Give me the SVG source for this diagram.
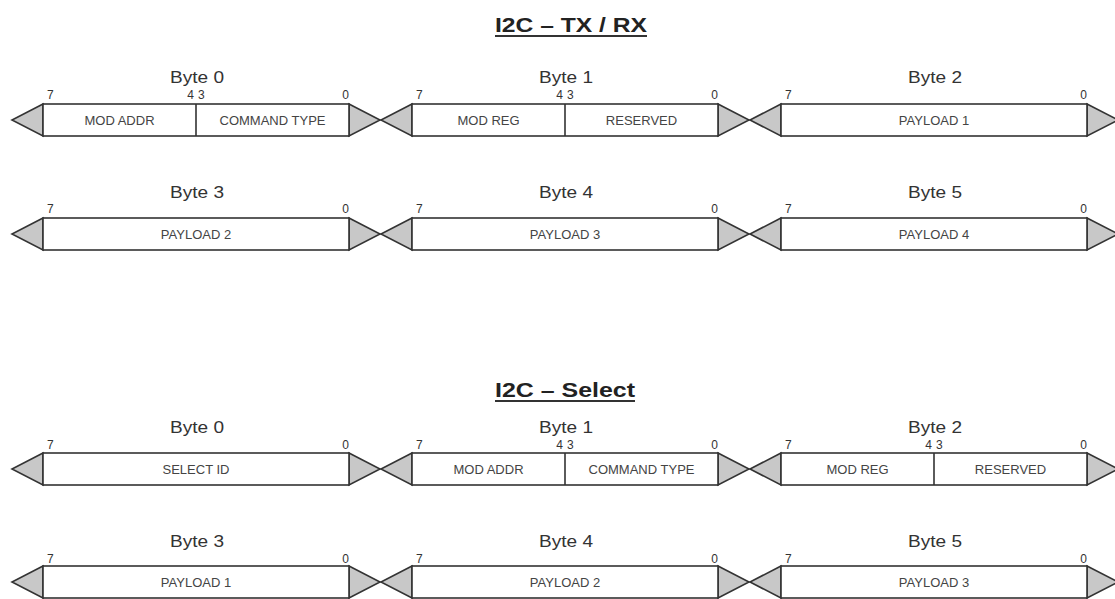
<svg xmlns="http://www.w3.org/2000/svg" width="1115" height="599" viewBox="0 0 1115 599">
<style>
  text { font-family: "Liberation Sans", Arial, sans-serif; fill: #333; }
  .title { font-size: 21px; font-weight: bold; fill: #222; }
  .ul { stroke: #333; stroke-width: 2; }
  .lbl { font-size: 17px; text-anchor: middle; }
  .bit { font-size: 12px; }
  .fld { font-size: 13px; text-anchor: middle; fill: #444; }
  .box { fill: #fff; stroke: #333; stroke-width: 1.6; }
  .tri { fill: #c8c8c8; stroke: #333; stroke-width: 1.6; stroke-linejoin: miter; }
  .div { stroke: #333; stroke-width: 1.6; }
  .e { text-anchor: end; }
</style>
<rect width="1115" height="599" fill="#fff"/>

<g id="title-txrx">
  <text class="title" x="495" y="32" textLength="152" lengthAdjust="spacingAndGlyphs">I2C – TX / RX</text>
  <line class="ul" x1="495" y1="36" x2="647" y2="36"/>
</g>
<g id="title-select">
  <text class="title" x="495" y="397" textLength="140" lengthAdjust="spacingAndGlyphs">I2C – Select</text>
  <line class="ul" x1="495" y1="401" x2="635" y2="401"/>
</g>

<!-- Row 1 -->
<g id="txrx-byte0">
  <polygon class="tri" points="43,104 12,120 43,136"/>
  <polygon class="tri" points="349,104 380,120 349,136"/>
  <rect class="box" x="43" y="104" width="306" height="32"/>
  <line class="div" x1="196" y1="104" x2="196" y2="136"/>
  <text class="lbl" x="197" y="83" textLength="54" lengthAdjust="spacingAndGlyphs">Byte 0</text>
  <text class="bit" x="47" y="99">7</text>
  <text class="bit e" x="194" y="99">4</text>
  <text class="bit" x="198" y="99">3</text>
  <text class="bit e" x="349" y="99">0</text>
  <text class="fld" x="119.5" y="125">MOD ADDR</text>
  <text class="fld" x="272.5" y="125">COMMAND TYPE</text>
</g>
<g id="txrx-byte1">
  <polygon class="tri" points="412,104 381,120 412,136"/>
  <polygon class="tri" points="718,104 749,120 718,136"/>
  <rect class="box" x="412" y="104" width="306" height="32"/>
  <line class="div" x1="565" y1="104" x2="565" y2="136"/>
  <text class="lbl" x="566" y="83" textLength="54" lengthAdjust="spacingAndGlyphs">Byte 1</text>
  <text class="bit" x="416" y="99">7</text>
  <text class="bit e" x="563" y="99">4</text>
  <text class="bit" x="567" y="99">3</text>
  <text class="bit e" x="718" y="99">0</text>
  <text class="fld" x="488.5" y="125">MOD REG</text>
  <text class="fld" x="641.5" y="125">RESERVED</text>
</g>
<g id="txrx-byte2">
  <polygon class="tri" points="781,104 750,120 781,136"/>
  <polygon class="tri" points="1087,104 1118,120 1087,136"/>
  <rect class="box" x="781" y="104" width="306" height="32"/>
  <text class="lbl" x="935" y="83" textLength="54" lengthAdjust="spacingAndGlyphs">Byte 2</text>
  <text class="bit" x="785" y="99">7</text>
  <text class="bit e" x="1087" y="99">0</text>
  <text class="fld" x="934" y="125">PAYLOAD 1</text>
</g>

<!-- Row 2 -->
<g id="txrx-byte3">
  <polygon class="tri" points="43,218 12,234 43,250"/>
  <polygon class="tri" points="349,218 380,234 349,250"/>
  <rect class="box" x="43" y="218" width="306" height="32"/>
  <text class="lbl" x="197" y="198" textLength="54" lengthAdjust="spacingAndGlyphs">Byte 3</text>
  <text class="bit" x="47" y="213">7</text>
  <text class="bit e" x="349" y="213">0</text>
  <text class="fld" x="196" y="239">PAYLOAD 2</text>
</g>
<g id="txrx-byte4">
  <polygon class="tri" points="412,218 381,234 412,250"/>
  <polygon class="tri" points="718,218 749,234 718,250"/>
  <rect class="box" x="412" y="218" width="306" height="32"/>
  <text class="lbl" x="566" y="198" textLength="54" lengthAdjust="spacingAndGlyphs">Byte 4</text>
  <text class="bit" x="416" y="213">7</text>
  <text class="bit e" x="718" y="213">0</text>
  <text class="fld" x="565" y="239">PAYLOAD 3</text>
</g>
<g id="txrx-byte5">
  <polygon class="tri" points="781,218 750,234 781,250"/>
  <polygon class="tri" points="1087,218 1118,234 1087,250"/>
  <rect class="box" x="781" y="218" width="306" height="32"/>
  <text class="lbl" x="935" y="198" textLength="54" lengthAdjust="spacingAndGlyphs">Byte 5</text>
  <text class="bit" x="785" y="213">7</text>
  <text class="bit e" x="1087" y="213">0</text>
  <text class="fld" x="934" y="239">PAYLOAD 4</text>
</g>

<!-- Row 3 -->
<g id="select-byte0">
  <polygon class="tri" points="43,453 12,469 43,485"/>
  <polygon class="tri" points="349,453 380,469 349,485"/>
  <rect class="box" x="43" y="453" width="306" height="32"/>
  <text class="lbl" x="197" y="433" textLength="54" lengthAdjust="spacingAndGlyphs">Byte 0</text>
  <text class="bit" x="47" y="449">7</text>
  <text class="bit e" x="349" y="449">0</text>
  <text class="fld" x="196" y="474">SELECT ID</text>
</g>
<g id="select-byte1">
  <polygon class="tri" points="412,453 381,469 412,485"/>
  <polygon class="tri" points="718,453 749,469 718,485"/>
  <rect class="box" x="412" y="453" width="306" height="32"/>
  <line class="div" x1="565" y1="453" x2="565" y2="485"/>
  <text class="lbl" x="566" y="433" textLength="54" lengthAdjust="spacingAndGlyphs">Byte 1</text>
  <text class="bit" x="416" y="449">7</text>
  <text class="bit e" x="563" y="449">4</text>
  <text class="bit" x="567" y="449">3</text>
  <text class="bit e" x="718" y="449">0</text>
  <text class="fld" x="488.5" y="474">MOD ADDR</text>
  <text class="fld" x="641.5" y="474">COMMAND TYPE</text>
</g>
<g id="select-byte2">
  <polygon class="tri" points="781,453 750,469 781,485"/>
  <polygon class="tri" points="1087,453 1118,469 1087,485"/>
  <rect class="box" x="781" y="453" width="306" height="32"/>
  <line class="div" x1="934" y1="453" x2="934" y2="485"/>
  <text class="lbl" x="935" y="433" textLength="54" lengthAdjust="spacingAndGlyphs">Byte 2</text>
  <text class="bit" x="785" y="449">7</text>
  <text class="bit e" x="932" y="449">4</text>
  <text class="bit" x="936" y="449">3</text>
  <text class="bit e" x="1087" y="449">0</text>
  <text class="fld" x="857.5" y="474">MOD REG</text>
  <text class="fld" x="1010.5" y="474">RESERVED</text>
</g>

<!-- Row 4 -->
<g id="select-byte3">
  <polygon class="tri" points="43,566 12,582 43,598"/>
  <polygon class="tri" points="349,566 380,582 349,598"/>
  <rect class="box" x="43" y="566" width="306" height="32"/>
  <text class="lbl" x="197" y="547" textLength="54" lengthAdjust="spacingAndGlyphs">Byte 3</text>
  <text class="bit" x="47" y="563">7</text>
  <text class="bit e" x="349" y="563">0</text>
  <text class="fld" x="196" y="587">PAYLOAD 1</text>
</g>
<g id="select-byte4">
  <polygon class="tri" points="412,566 381,582 412,598"/>
  <polygon class="tri" points="718,566 749,582 718,598"/>
  <rect class="box" x="412" y="566" width="306" height="32"/>
  <text class="lbl" x="566" y="547" textLength="54" lengthAdjust="spacingAndGlyphs">Byte 4</text>
  <text class="bit" x="416" y="563">7</text>
  <text class="bit e" x="718" y="563">0</text>
  <text class="fld" x="565" y="587">PAYLOAD 2</text>
</g>
<g id="select-byte5">
  <polygon class="tri" points="781,566 750,582 781,598"/>
  <polygon class="tri" points="1087,566 1118,582 1087,598"/>
  <rect class="box" x="781" y="566" width="306" height="32"/>
  <text class="lbl" x="935" y="547" textLength="54" lengthAdjust="spacingAndGlyphs">Byte 5</text>
  <text class="bit" x="785" y="563">7</text>
  <text class="bit e" x="1087" y="563">0</text>
  <text class="fld" x="934" y="587">PAYLOAD 3</text>
</g>
</svg>
